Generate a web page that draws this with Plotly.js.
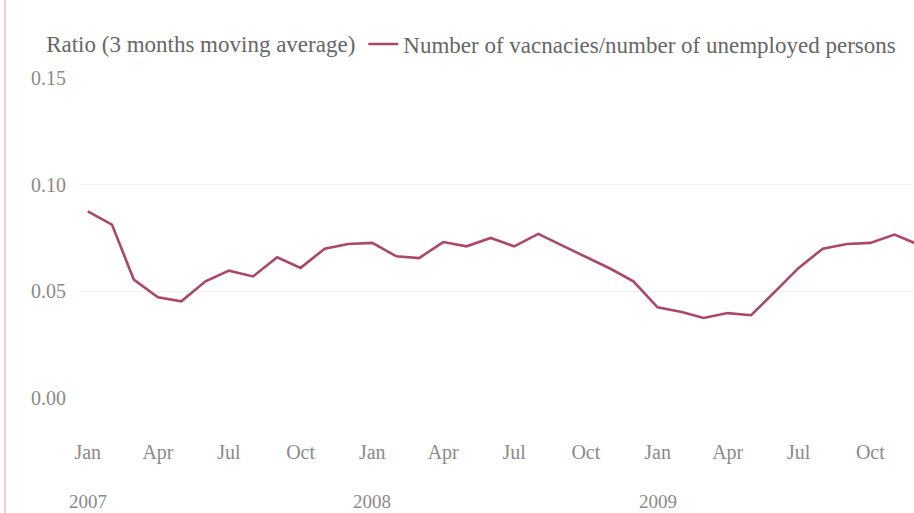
<!DOCTYPE html>
<html>
<head>
<meta charset="utf-8">
<script src="https://cdn.plot.ly/plotly-3.0.1.min.js"></script>
<style>html,body{margin:0;padding:0;background:#fff;}#chart{width:914px;height:513px;}</style>
</head>
<body>
<div id="chart"></div>
<script>
// Monthly observations, Jan 2007 – Dec 2009
const months = [
  '2007-01','2007-02','2007-03','2007-04','2007-05','2007-06','2007-07','2007-08','2007-09','2007-10','2007-11','2007-12',
  '2008-01','2008-02','2008-03','2008-04','2008-05','2008-06','2008-07','2008-08','2008-09','2008-10','2008-11','2008-12',
  '2009-01','2009-02','2009-03','2009-04','2009-05','2009-06','2009-07','2009-08','2009-09','2009-10','2009-11','2009-12'
];
const ratio = [
  0.0875,0.0813,0.0555,0.0472,0.0453,0.0547,0.0597,0.0570,0.0660,0.0610,0.0700,0.0722,
  0.0727,0.0664,0.0656,0.0731,0.0711,0.0750,0.0711,0.0769,0.0714,0.0660,0.0607,0.0547,
  0.0425,0.0403,0.0375,0.0398,0.0388,0.0500,0.0610,0.0700,0.0722,0.0727,0.0766,0.0720
];
const tickDates = ['2007-01-01','2007-04-01','2007-07-01','2007-10-01','2008-01-01','2008-04-01','2008-07-01','2008-10-01','2009-01-01','2009-04-01','2009-07-01','2009-10-01'];
const tickLabels = ['Jan','Apr','Jul','Oct','Jan','Apr','Jul','Oct','Jan','Apr','Jul','Oct'];
const yearDates = ['2007-01-01','2008-01-01','2009-01-01'];
const yearLabels = ['2007','2008','2009'];
const yTicks = [0, 0.05, 0.10, 0.15];
const seriesName = 'Number of vacnacies/number of unemployed persons';
const legendTitle = 'Ratio (3 months moving average)';

const FONT = 'Liberation Serif, Times New Roman, serif';
const trace = {
  x: months, y: ratio, type: 'scatter', mode: 'lines', name: seriesName,
  line: {color: '#a9486b', width: 2.6}
};
const yearAnnotations = yearDates.map((d, i) => ({
  x: d, xref: 'x', y: -0.322, yref: 'paper', yanchor: 'middle', xanchor: 'center',
  text: yearLabels[i], showarrow: false,
  font: {family: FONT, size: 19, color: '#8a8a8a'}
}));
const layout = {
  width: 914, height: 513,
  margin: {l: 80, r: 0, t: 78, b: 115},
  paper_bgcolor: '#ffffff', plot_bgcolor: '#ffffff',
  font: {family: FONT, color: '#8a8a8a'},
  showlegend: true,
  legend: {
    orientation: 'h', x: -0.043, xanchor: 'left', y: 1.106, yanchor: 'middle',
    font: {family: FONT, size: 23, color: '#666666'},
    title: {text: legendTitle, side: 'left', font: {family: FONT, size: 23, color: '#666666'}},
    itemwidth: 30, bgcolor: 'rgba(0,0,0,0)'
  },
  xaxis: {
    type: 'date', range: ['2006-12-22', '2009-11-26'],
    tickvals: tickDates, ticktext: tickLabels,
    showgrid: false, zeroline: false, showline: false,
    ticks: 'outside', ticklen: 36, tickcolor: 'rgba(0,0,0,0)',
    tickfont: {family: FONT, size: 20, color: '#8a8a8a'}
  },
  yaxis: {
    range: [0, 0.15], tickvals: yTicks, tickformat: '.2f',
    showgrid: true, gridcolor: '#f1f1f1', gridwidth: 1, zeroline: false, showline: false,
    ticks: 'outside', ticklen: 9, tickcolor: 'rgba(0,0,0,0)',
    tickfont: {family: FONT, size: 20, color: '#8a8a8a'}
  },
  annotations: yearAnnotations,
  shapes: [{
    type: 'line', xref: 'paper', yref: 'paper',
    x0: -0.0899, x1: -0.0899, y0: -0.36, y1: 1.25,
    line: {color: '#f2c9d5', width: 2}
  }]
};
Plotly.newPlot('chart', [trace], layout, {displayModeBar: false, staticPlot: true});
</script>
</body>
</html>
